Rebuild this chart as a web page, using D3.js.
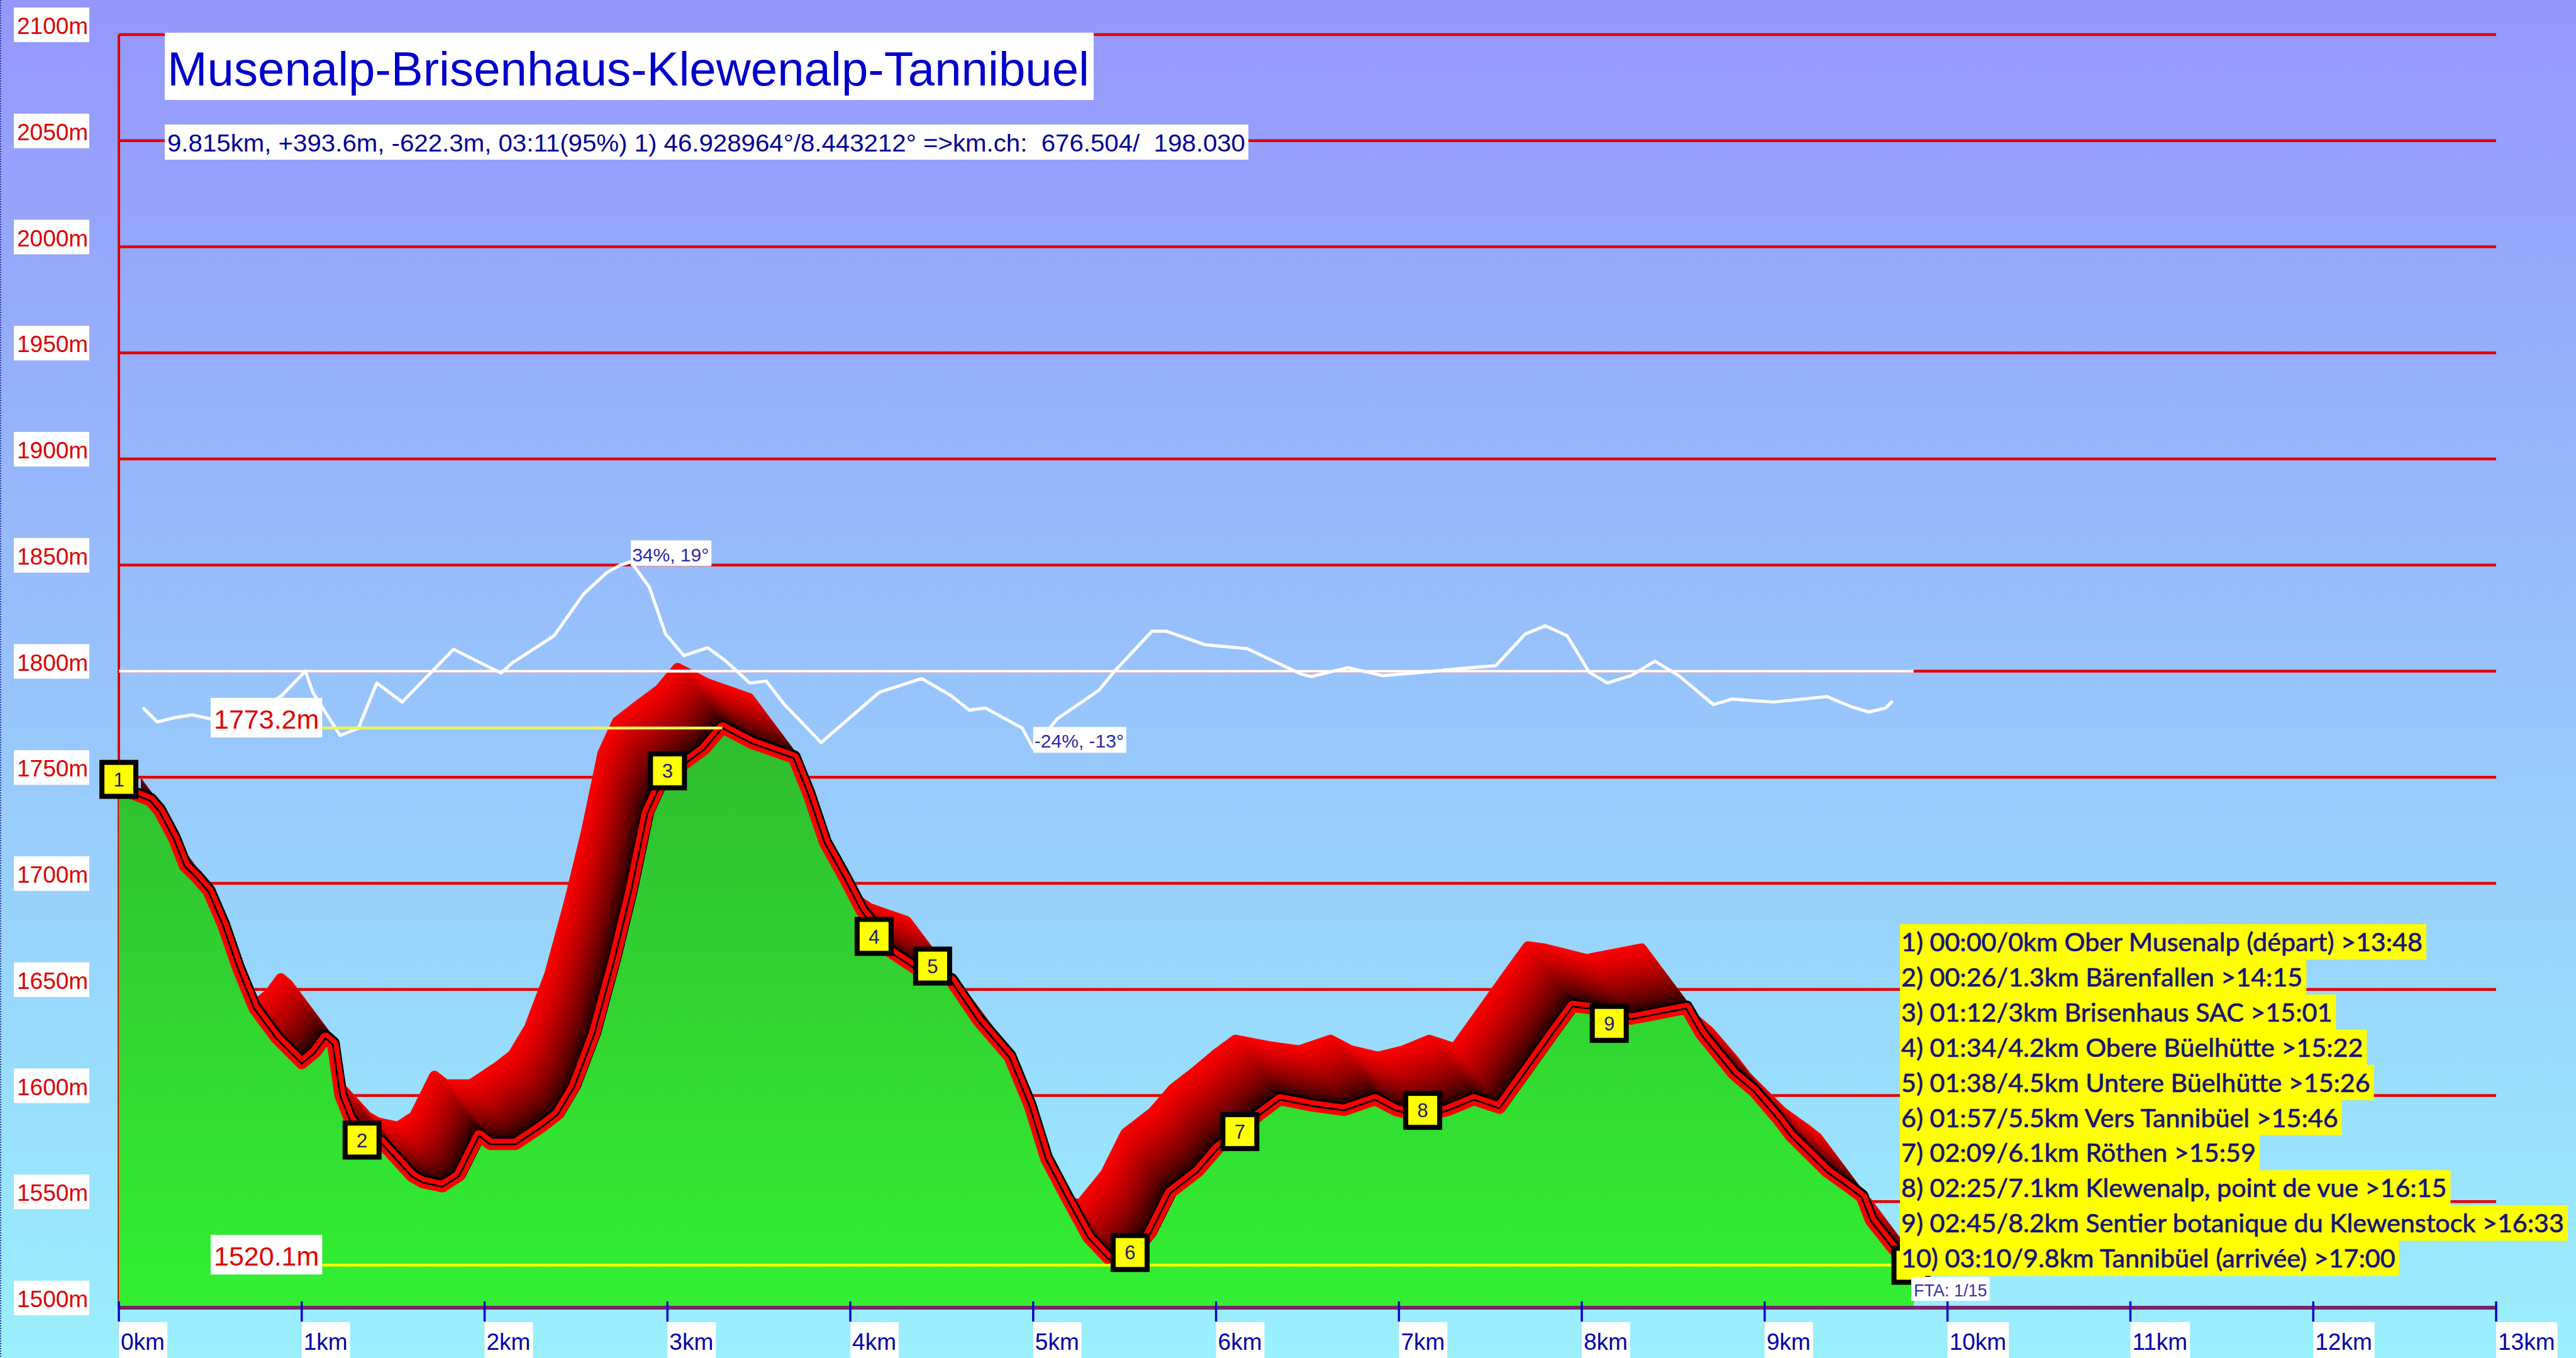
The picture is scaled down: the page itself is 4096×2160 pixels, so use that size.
<!DOCTYPE html>
<html>
<head>
<meta charset="utf-8">
<script src="https://cdn.jsdelivr.net/npm/d3@7"></script>
<style>
  html, body { margin: 0; padding: 0; overflow: hidden; background: #9ac4fc; }
  svg { display: block; }
</style>
</head>
<body>
<svg id="chart" width="4096" height="2160"></svg>
<script>
"use strict";

// ---- data ----
const title = "Musenalp-Brisenhaus-Klewenalp-Tannibuel";
const subtitle = "9.815km, +393.6m, -622.3m, 03:11(95%) 1) 46.928964°/8.443212° =>km.ch:  676.504/  198.030";

// elevation profile (km, m)
const profileKm = [0, 0.08, 0.17, 0.22, 0.30, 0.36, 0.42, 0.49, 0.57, 0.65, 0.74, 0.86, 1.00, 1.07, 1.13, 1.17, 1.21, 1.26,
  1.33, 1.43, 1.60, 1.66, 1.77, 1.86, 1.97, 2.03, 2.17, 2.31, 2.40, 2.49, 2.60, 2.71, 2.80, 2.89, 2.97, 3.09, 3.20, 3.30,
  3.46, 3.69, 3.77, 3.86, 3.97, 4.06, 4.17, 4.21, 4.35, 4.55, 4.70, 4.87, 4.98, 5.07, 5.18, 5.30, 5.41, 5.50, 5.64, 5.75,
  5.90, 6.01, 6.13, 6.24, 6.35, 6.53, 6.70, 6.87, 6.98, 7.13, 7.27, 7.41, 7.55, 7.70, 7.84, 7.95, 8.04, 8.27, 8.45, 8.57,
  8.65, 8.83, 8.94, 9.07, 9.14, 9.34, 9.47, 9.53, 9.58, 9.69, 9.74, 9.815];
const profileElev = [1746, 1742, 1739, 1734, 1721, 1708, 1703, 1696, 1680, 1660, 1641, 1627, 1615, 1620, 1627, 1624, 1600, 1589,
  1581, 1578, 1562, 1559, 1557, 1562, 1581, 1577, 1577, 1585, 1591, 1604, 1629, 1664, 1696, 1733, 1748, 1756, 1763, 1773.2,
  1766, 1759, 1742, 1719, 1702, 1687, 1675, 1668, 1660, 1654, 1635, 1618, 1595, 1570, 1552, 1533, 1523, 1520.1, 1535, 1554,
  1564, 1575, 1583, 1591, 1598, 1595, 1593, 1598, 1593, 1590, 1593, 1598, 1594, 1612, 1629, 1642, 1641, 1636, 1639, 1641,
  1629, 1610, 1602, 1589, 1581, 1564, 1556, 1552, 1541, 1529, 1524, 1521];

// slope curve (km, %)
const slopeKm = [0.13, 0.21, 0.31, 0.40, 0.50, 0.60, 0.75, 0.89, 1.02, 1.06, 1.21, 1.31, 1.41, 1.55, 1.83, 2.09, 2.15, 2.38,
  2.54, 2.67, 2.74, 2.80, 2.90, 2.99, 3.09, 3.22, 3.32, 3.45, 3.54, 3.64, 3.84, 4.16, 4.39, 4.55, 4.65, 4.74, 4.94, 5.00,
  5.13, 5.36, 5.45, 5.65, 5.73, 5.94, 6.17, 6.46, 6.52, 6.72, 6.91, 7.14, 7.33, 7.53, 7.69, 7.80, 7.92, 8.04, 8.14, 8.27,
  8.40, 8.53, 8.72, 8.82, 9.05, 9.34, 9.47, 9.57, 9.66, 9.70];
const slopePct = [-11.3, -15.8, -14.4, -13.6, -14.8, -15, -13, -7.6, 0, -6.5, -20, -17.7, -3.7, -9.6, 6.8, -0.6, 2.5, 11,
  23.9, 30.7, 32.9, 34, 26.2, 11.5, 4.8, 7.3, 3.1, -3.7, -3.1, -10.4, -22.2, -6.5, -2.3, -7.6, -12.1, -11.5, -17.7, -24,
  -14.9, -5.9, 0.3, 12.4, 12.4, 8.2, 7, -0.8, -1.7, 1.1, -1.4, -0.3, 0.8, 1.7, 11.5, 14.1, 11, -0.3, -3.7, -1.4,
  3.1, -1.4, -10.4, -8.7, -9.6, -7.9, -11, -12.7, -11.5, -9.3];
const slopeMaxLabel = "34%, 19°";
const slopeMinLabel = "-24%, -13°";

// waypoints
const waypointKm = [0, 1.33, 3.0, 4.13, 4.45, 5.53, 6.13, 7.13, 8.15, 9.8];
const waypointElev = [1749, 1579, 1753, 1675, 1661, 1526, 1583, 1593, 1634, 1520];
const waypointLabels = ["1", "2", "3", "4", "5", "6", "7", "8", "9", "10"];

const legendLines = [
  "1) 00:00/0km Ober Musenalp (départ) >13:48",
  "2) 00:26/1.3km Bärenfallen >14:15",
  "3) 01:12/3km Brisenhaus SAC >15:01",
  "4) 01:34/4.2km Obere Büelhütte >15:22",
  "5) 01:38/4.5km Untere Büelhütte >15:26",
  "6) 01:57/5.5km Vers Tannibüel >15:46",
  "7) 02:09/6.1km Röthen >15:59",
  "8) 02:25/7.1km Klewenalp, point de vue >16:15",
  "9) 02:45/8.2km Sentier botanique du Klewenstock >16:33",
  "10) 03:10/9.8km Tannibüel (arrivée) >17:00"
];

const yTicks = [1500, 1550, 1600, 1650, 1700, 1750, 1800, 1850, 1900, 1950, 2000, 2050, 2100];
const xTicks = [0, 1, 2, 3, 4, 5, 6, 7, 8, 9, 10, 11, 12, 13];
const ftaLabel = "FTA: 1/15";

// ---- drawing ----
const W = 4096, H = 2160;
const svg = d3.select("#chart");

const x = d3.scaleLinear().domain([0, 13]).range([189, 3969]);
const y = d3.scaleLinear().domain([1500, 2100]).range([2080, 55]);
const slopeY = d3.scaleLinear().domain([0, 34]).range([y(1800), y(1800) - 174]);

const profile = profileKm.map((k, i) => ({km: k, elev: profileElev[i]}));
const slope = slopeKm.map((k, i) => ({km: k, pct: slopePct[i]}));
const lastKm = d3.max(profileKm);
const legendX = 3021, legendTop = 1470, rowH = 55.9;

const defs = svg.append("defs");
const bgGrad = defs.append("linearGradient").attr("id", "bgGrad")
    .attr("x1", 0).attr("y1", 0).attr("x2", 0).attr("y2", 1);
bgGrad.append("stop").attr("offset", 0).attr("stop-color", "#9597fb");
bgGrad.append("stop").attr("offset", 1).attr("stop-color", "#9af0fd");

const greenGrad = defs.append("linearGradient").attr("id", "greenGrad")
    .attr("gradientUnits", "userSpaceOnUse")
    .attr("x1", 0).attr("y1", y(1780)).attr("x2", 0).attr("y2", y(1500));
greenGrad.append("stop").attr("offset", 0).attr("stop-color", "#2fbb2f");
greenGrad.append("stop").attr("offset", 1).attr("stop-color", "#33ef33");

// the shadow is kept clear of the very start of the profile
defs.append("clipPath").attr("id", "plotClip")
  .append("rect").attr("x", x(0.12)).attr("y", 0).attr("width", W - x(0.12)).attr("height", y(1500));

svg.append("rect").attr("width", W).attr("height", H).attr("fill", "url(#bgGrad)");

// grid lines
svg.append("g").selectAll("line")
  .data(yTicks.filter(v => v > 1500))
  .join("line")
    .attr("x1", x(0)).attr("x2", x(13))
    .attr("y1", d => y(d)).attr("y2", d => y(d))
    .attr("stroke", "#e30000").attr("stroke-width", 4.5);

// left axis
svg.append("line")
  .attr("x1", x(0)).attr("x2", x(0)).attr("y1", y(2100)).attr("y2", y(1500))
  .attr("stroke", "#e00000").attr("stroke-width", 4);

// extruded shadow behind the profile
const area = d3.area().x(d => x(d.km)).y0(y(1500)).y1(d => y(d.elev));
const line = d3.line().x(d => x(d.km)).y(d => y(d.elev));
const areaPath = area(profile);
const linePath = line(profile);
const shift = {dx: -71, dy: -95};
const steps = 56;
const ext = svg.append("g").attr("clip-path", "url(#plotClip)");
for (let s = steps; s >= 0; s--) {
  const t = s / steps;
  const c = d3.interpolateRgb("#000000", "#ff0000")(Math.pow(t, 0.6));
  const g = ext.append("g").attr("transform", `translate(${shift.dx * t},${shift.dy * t})`);
  g.append("path").attr("d", areaPath).attr("fill", c);
  g.append("path").attr("d", linePath).attr("fill", "none")
    .attr("stroke", c).attr("stroke-width", 17).attr("stroke-linejoin", "round");
}

// green ground
svg.append("path").attr("d", areaPath).attr("fill", "url(#greenGrad)");

// road
svg.append("path").attr("d", linePath).attr("fill", "none")
  .attr("transform", "translate(1,-2.5)")
  .attr("stroke", "#000000").attr("stroke-width", 20).attr("stroke-linejoin", "round");
svg.append("path").attr("d", linePath).attr("fill", "none")
  .attr("stroke", "#ff0000").attr("stroke-width", 18).attr("stroke-linejoin", "round");
svg.append("path").attr("d", linePath).attr("fill", "none")
  .attr("stroke", "#000000").attr("stroke-width", 2.8).attr("stroke-linejoin", "round");

// slope curve
svg.append("line").attr("x1", x(0)).attr("x2", x(lastKm))
  .attr("y1", y(1800)).attr("y2", y(1800))
  .attr("stroke", "#ffffff").attr("stroke-width", 4.5);
svg.append("path")
  .attr("d", d3.line().x(d => x(d.km)).y(d => slopeY(d.pct))(slope))
  .attr("fill", "none").attr("stroke", "#ffffff").attr("stroke-width", 5)
  .attr("stroke-linejoin", "round");

const slopeMarks = [
  {d: slope[d3.maxIndex(slopePct)], label: slopeMaxLabel},
  {d: slope[d3.minIndex(slopePct)], label: slopeMinLabel}
];
slopeMarks.forEach(m => {
  const px = x(m.d.km), py = slopeY(m.d.pct);
  const g = svg.append("g");
  const txt = g.append("text").attr("x", px + 2).attr("y", py - 1)
    .attr("font-family", "'Liberation Sans', Tahoma, sans-serif")
    .attr("font-size", 30).attr("fill", "#2a2aa8").text(m.label);
  const tw = txt.node().getComputedTextLength();
  g.insert("rect", "text").attr("x", px).attr("y", py - 34)
    .attr("width", tw + 6).attr("height", 41).attr("fill", "#ffffff");
});

// max / min lines
const maxI = d3.maxIndex(profileElev), minI = d3.minIndex(profileElev);
const extremes = [
  {elev: profileElev[maxI], toKm: profileKm[maxI], color: "#f2f55a"},
  {elev: profileElev[minI], toKm: lastKm, color: "#ffff00"}
];
extremes.forEach(e => {
  const g = svg.append("g");
  const ty = y(e.elev);
  const txt = g.append("text")
    .attr("x", 340).attr("y", ty + 1)
    .attr("font-family", "'Liberation Sans', Arial, sans-serif")
    .attr("font-size", 43).attr("fill", "#dd0000")
    .text(e.elev.toFixed(1) + "m");
  const tw = txt.node().getComputedTextLength();
  g.insert("rect", "text").attr("x", 335).attr("y", ty - 48)
    .attr("width", tw + 10).attr("height", 63).attr("fill", "#ffffff");
  g.append("line").attr("x1", 335 + tw + 10).attr("x2", x(e.toKm))
    .attr("y1", ty).attr("y2", ty).attr("stroke", e.color).attr("stroke-width", 4.5);
});

// waypoint markers (the last one sits under the legend, only its frame peeks out)
const wp = svg.append("g").selectAll("g")
  .data(waypointKm.map((k, i) => ({km: k, elev: waypointElev[i], label: waypointLabels[i]})))
  .join("g")
    .attr("transform", d => `translate(${x(d.km)},${y(d.elev)})`);
wp.append("rect").attr("x", -27).attr("y", -27).attr("width", 54).attr("height", 54)
  .attr("fill", "#ffff00").attr("stroke", "#000000").attr("stroke-width", 8);
wp.filter(d => x(d.km) < legendX - 40)
  .append("text").attr("text-anchor", "middle").attr("dy", "0.36em")
  .attr("font-family", "'Liberation Sans', Arial, sans-serif")
  .attr("font-size", 31).attr("fill", "#1a1a66").text(d => d.label);

// x axis
svg.append("line").attr("x1", x(0)).attr("x2", x(13))
  .attr("y1", y(1500)).attr("y2", y(1500))
  .attr("stroke", "#7c2268").attr("stroke-width", 6);
const xt = svg.append("g").selectAll("g").data(xTicks).join("g")
  .attr("transform", d => `translate(${x(d)},0)`);
xt.append("line").attr("y1", y(1500) - 10).attr("y2", y(1500) + 22)
  .attr("stroke", "#0000cc").attr("stroke-width", 3.5);
xt.append("text").attr("x", 3).attr("y", 2147)
  .attr("font-family", "'Liberation Sans', Arial, sans-serif")
  .attr("font-size", 37).attr("fill", "#0000aa")
  .text(d => d + "km");
xt.each(function() {
  const g = d3.select(this);
  const tw = g.select("text").node().getComputedTextLength();
  g.insert("rect", "text").attr("x", 0).attr("y", 2103).attr("width", tw + 7).attr("height", 57)
    .attr("fill", "#ffffff");
});

// y labels
const yl = svg.append("g").selectAll("g").data(yTicks).join("g")
  .attr("transform", d => `translate(0,${y(d)})`);
yl.append("rect").attr("x", 22).attr("y", -43).attr("width", 120).attr("height", 55)
  .attr("fill", "#ffffff");
yl.append("text").attr("x", 27).attr("y", -1)
  .attr("font-family", "'Liberation Sans', Arial, sans-serif")
  .attr("font-size", 37).attr("fill", "#dd0000")
  .text(d => d + "m");

// title & subtitle
svg.append("rect").attr("x", 262).attr("y", 52).attr("width", 1477).attr("height", 107).attr("fill", "#ffffff");
svg.append("text").attr("x", 266).attr("y", 136)
  .attr("font-family", "'Liberation Sans', Arial, sans-serif")
  .attr("font-size", 76).attr("fill", "#0000cc")
  .attr("textLength", 1466).attr("lengthAdjust", "spacingAndGlyphs")
  .text(title);
svg.append("rect").attr("x", 262).attr("y", 198).attr("width", 1723).attr("height", 56).attr("fill", "#ffffff");
svg.append("text").attr("x", 266).attr("y", 241)
  .attr("font-family", "'Liberation Sans', Tahoma, sans-serif")
  .attr("font-size", 38).attr("fill", "#000099")
  .attr("xml:space", "preserve").style("white-space", "pre")
  .attr("textLength", 1714).attr("lengthAdjust", "spacingAndGlyphs")
  .text(subtitle);

// legend
const lg = svg.append("g");
const rows = lg.selectAll("g").data(legendLines).join("g")
  .attr("transform", (d, i) => `translate(${legendX},${legendTop + i * rowH})`);
const ltext = rows.append("text").attr("x", 2).attr("y", 43)
  .attr("font-family", "'Comic Sans MS', Lato, sans-serif")
  .attr("font-size", 40).attr("fill", "#14147a")
  .attr("stroke", "#14147a").attr("stroke-width", 0.7)
  .text(d => d);
const maxW = d3.max(ltext.nodes(), n => n.getComputedTextLength());
ltext.attr("font-size", 40 * 1054 / maxW);
rows.each(function() {
  const g = d3.select(this);
  const tw = g.select("text").node().getComputedTextLength();
  g.insert("rect", "text").attr("x", 0).attr("y", 0).attr("width", tw + 8).attr("height", rowH + 0.5)
    .attr("fill", "#ffff00");
});

// FTA label
const fta = svg.append("g");
const ftaText = fta.append("text").attr("x", 3043).attr("y", 2062)
  .attr("font-family", "'Liberation Sans', Tahoma, sans-serif")
  .attr("font-size", 27).attr("fill", "#3333aa").text(ftaLabel);
fta.insert("rect", "text").attr("x", 3039).attr("y", 2031)
  .attr("width", ftaText.node().getComputedTextLength() + 8).attr("height", 38).attr("fill", "#ffffff");

// dotted left border
svg.append("line").attr("x1", 1).attr("x2", 1).attr("y1", 0).attr("y2", H)
  .attr("stroke", "#3344aa").attr("stroke-width", 2).attr("stroke-dasharray", "2,2");
</script>
</body>
</html>
